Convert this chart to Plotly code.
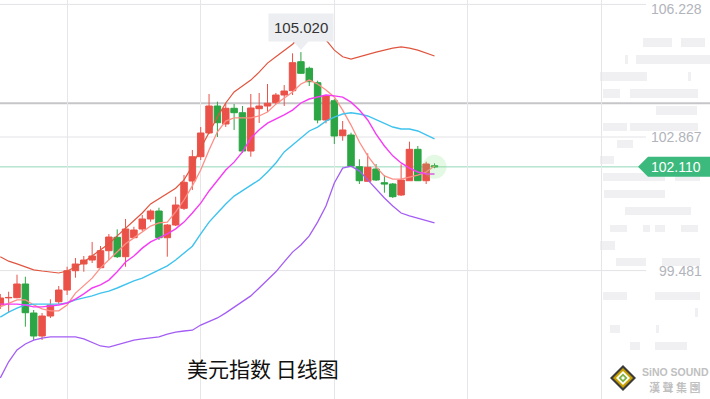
import plotly.graph_objects as go

# ---------------- data ----------------
idx = list(range(53))
opens = [98.609, 98.790, 98.794, 99.141, 98.406, 97.823, 98.330, 98.692, 98.988, 99.478,
         99.648, 99.749, 99.554, 99.985, 100.325, 99.833, 100.315, 100.535, 100.789, 100.991,
         100.315, 100.636, 101.060, 101.752, 102.368, 102.969, 103.653, 103.197, 103.595, 103.483,
         102.512, 103.585, 103.653, 103.737, 103.932, 104.041, 104.776, 104.609, 104.244, 103.298,
         103.787, 102.900, 102.918, 102.114, 101.744, 102.056, 101.709, 101.676, 101.397, 101.759,
         102.555, 101.759, 102.140]
highs = [98.887, 98.946, 99.377, 99.326, 98.482, 98.406, 98.753, 99.090, 99.579, 99.800,
         99.851, 100.205, 100.104, 100.408, 100.527, 100.789, 100.593, 100.890, 101.034, 101.075,
         100.662, 101.354, 101.904, 102.538, 103.121, 103.957, 103.762, 103.721, 103.704, 103.653,
         103.957, 103.983, 104.211, 103.983, 104.185, 104.989, 105.020, 104.649, 104.294, 103.932,
         103.830, 103.273, 102.976, 102.302, 102.454, 102.183, 101.904, 101.701, 102.175, 102.748,
         102.639, 102.241, 102.200]
lows = [98.507, 98.406, 98.780, 98.059, 97.721, 97.721, 98.279, 98.634, 98.862, 99.301,
        99.453, 99.673, 99.547, 99.749, 99.800, 99.579, 100.307, 100.484, 100.720, 100.256,
        99.833, 100.611, 101.017, 101.524, 102.284, 102.943, 102.867, 103.121, 103.045, 102.462,
        102.368, 103.222, 103.501, 103.704, 103.653, 103.932, 104.464, 104.160, 103.214, 103.214,
        102.690, 102.773, 102.106, 101.676, 101.727, 101.752, 101.455, 101.321, 101.372, 101.752,
        101.752, 101.676, 102.074]
closes = [98.786, 98.800, 99.141, 98.413, 97.823, 98.330, 98.609, 98.988, 99.478, 99.648,
          99.749, 99.851, 99.985, 100.332, 99.833, 100.535, 100.510, 100.789, 100.991, 100.315,
          100.636, 101.143, 101.719, 102.368, 102.969, 103.653, 103.230, 103.595, 103.483, 102.512,
          103.602, 103.653, 103.722, 103.932, 104.033, 104.751, 104.482, 104.269, 103.298, 103.907,
          102.893, 103.045, 102.132, 101.759, 102.099, 101.777, 101.676, 101.354, 101.777, 102.555,
          101.759, 102.183, 102.110]

boll_upper = [99.83, 99.72, 99.65, 99.57, 99.50, 99.47, 99.45, 99.42, 99.47, 99.57,
              99.70, 99.85, 100.00, 100.16, 100.36, 100.56, 100.74, 100.94, 101.17, 101.30,
              101.42, 101.57, 101.78, 102.13, 102.59, 103.00, 103.37, 103.73, 104.01, 104.16,
              104.31, 104.51, 104.74, 104.90, 105.05, 105.22, 105.43, 105.55, 105.50, 105.33,
              105.07, 104.90, 104.84, 104.90, 104.97, 105.02, 105.07, 105.12, 105.15, 105.12,
              105.07, 105.00, 104.92]
ma_short = [98.56, 98.66, 98.74, 98.74, 98.61, 98.51, 98.46, 98.46, 98.61, 98.91,
            99.09, 99.29, 99.55, 99.75, 99.95, 100.16, 100.31, 100.46, 100.61, 100.69,
            100.71, 100.97, 101.27, 101.63, 102.03, 102.54, 103.00, 103.27, 103.35, 103.35,
            103.35, 103.40, 103.50, 103.70, 103.86, 104.01, 104.21, 104.31, 104.21, 104.06,
            103.88, 103.55, 103.17, 102.74, 102.39, 102.11, 101.88, 101.80, 101.80, 101.85,
            101.90, 101.98, 102.13]
ma_mid = [98.63, 98.63, 98.63, 98.61, 98.56, 98.56, 98.58, 98.61, 98.66, 98.76,
          98.89, 99.04, 99.12, 99.24, 99.45, 99.70, 99.85, 100.05, 100.21, 100.31,
          100.41, 100.54, 100.71, 100.94, 101.19, 101.50, 101.78, 102.03, 102.23, 102.49,
          102.84, 103.05, 103.22, 103.32, 103.43, 103.55, 103.73, 103.83, 103.88, 103.93,
          103.91, 103.88, 103.75, 103.55, 103.30, 102.94, 102.64, 102.39, 102.21, 102.08,
          101.98, 101.93, 101.93]
boll_middle = [98.30, 98.43, 98.53, 98.61, 98.63, 98.63, 98.63, 98.63, 98.66, 98.74,
               98.79, 98.84, 98.91, 98.96, 99.04, 99.14, 99.22, 99.29, 99.39, 99.50,
               99.60, 99.75, 99.93, 100.10, 100.41, 100.71, 100.94, 101.17, 101.37, 101.50,
               101.63, 101.78, 101.98, 102.21, 102.49, 102.66, 102.84, 103.02, 103.12, 103.27,
               103.37, 103.45, 103.48, 103.45, 103.40, 103.30, 103.22, 103.12, 103.07, 103.07,
               103.02, 102.92, 102.82]
boll_lower = [96.76, 97.17, 97.47, 97.62, 97.72, 97.77, 97.80, 97.80, 97.80, 97.80,
              97.75, 97.65, 97.57, 97.54, 97.60, 97.67, 97.72, 97.75, 97.77, 97.80,
              97.87, 97.92, 97.95, 97.97, 98.10, 98.20, 98.28, 98.41, 98.56, 98.69,
              98.84, 99.04, 99.24, 99.45, 99.70, 99.95, 100.13, 100.36, 100.71, 101.12,
              101.70, 102.08, 102.13, 102.01, 101.78, 101.55, 101.32, 101.12, 100.94, 100.87,
              100.81, 100.74, 100.69]

axis_ticks = [106.228, 102.867, 99.481]
axis_ticktext = ["106.228", "102.867", "99.481"]
last_price = 102.110
level_line = 103.72
peak_label = "105.020"
title_text = "美元指数 日线图"

# ---------------- figure ----------------
W, H = 710, 399
RED, GREEN = "#ea5249", "#2ca544"

fig = go.Figure()

# faint background blocks (decoration)
blocks = [(643, 38, 672, 47), (681, 38, 705, 47), (625, 55, 628, 64), (636, 55, 710, 64),
          (600, 72, 647, 81), (688, 72, 691, 81), (603, 89, 620, 98), (630, 89, 698, 98),
          (656, 106, 697, 115), (603, 123, 627, 131), (630, 123, 698, 131), (617, 140, 633, 148),
          (600, 156, 614, 164), (603, 173, 665, 181), (675, 173, 700, 181), (604, 190, 665, 198),
          (625, 207, 691, 215), (610, 225, 627, 232), (643, 225, 650, 232), (655, 225, 665, 232),
          (681, 225, 698, 232), (600, 241, 615, 250), (616, 258, 646, 266), (662, 258, 700, 266),
          (603, 292, 627, 300), (655, 292, 700, 300), (695, 308, 698, 317), (610, 325, 620, 333),
          (656, 325, 659, 333), (630, 342, 640, 350), (655, 342, 687, 350)]
shapes = []
for (x0, y0, x1, y1) in blocks:
    shapes.append(dict(type="rect", xref="paper", yref="paper", layer="below",
                       x0=x0 / W, x1=x1 / W, y0=1 - y1 / H, y1=1 - y0 / H,
                       fillcolor="#f0f0f2", line=dict(width=0)))

# horizontal grid lines (stop before labels)
for v in axis_ticks:
    shapes.append(dict(type="line", xref="paper", yref="y", layer="below",
                       x0=0, x1=646 / W, y0=v, y1=v, line=dict(color="#e3e3e6", width=1)))
# level line
shapes.append(dict(type="line", xref="paper", yref="y", layer="below",
                   x0=0, x1=1, y0=level_line, y1=level_line, line=dict(color="#c6c6c8", width=2)))
# last price line
shapes.append(dict(type="line", xref="paper", yref="y", layer="below",
                   x0=0, x1=0.9, y0=last_price, y1=last_price, line=dict(color="#93d7bb", width=1)))
# price tag
shapes.append(dict(type="path", xref="paper", yref="y", xsizemode="pixel", ysizemode="pixel",
                   xanchor=1, yanchor=last_price,
                   path="M -72,0 L -62,10 L 0,10 L 0,-10 L -62,-10 Z",
                   fillcolor="#3cb97d", line=dict(width=0)))

# peak label pointer
pk = max(range(len(highs)), key=lambda i: highs[i])
shapes.append(dict(type="path", xref="x", yref="y", xsizemode="pixel", ysizemode="pixel",
                   xanchor=idx[pk], yanchor=highs[pk],
                   path="M -8,11 L 8,11 L 0,2 Z", fillcolor="#eceef1", line=dict(width=0)))

# logo diamond
lx, ly = 623 / W, 1 - 378 / H
for r, col in [(13, "#3b3b3b"), (10, "#c9a200"), (7, "#ffffff"), (4.5, "#7cb342"), (2, "#ffffff")]:
    shapes.append(dict(type="path", xref="paper", yref="paper", xsizemode="pixel", ysizemode="pixel",
                       xanchor=lx, yanchor=ly,
                       path=f"M 0,{r} L {r},0 L 0,{-r} L {-r},0 Z", fillcolor=col, line=dict(width=0)))

fig.add_trace(go.Candlestick(
    x=idx, open=opens, high=highs, low=lows, close=closes,
    increasing=dict(line=dict(color=RED, width=1), fillcolor=RED),
    decreasing=dict(line=dict(color=GREEN, width=1), fillcolor=GREEN),
    whiskerwidth=0, hoverinfo="skip", showlegend=False))

line_specs = [(boll_upper, "#e0553f", 1.2), (ma_short, "#ff8f86", 1.3), (boll_middle, "#3fc3ee", 1.4),
              (ma_mid, "#f53cf5", 1.4), (boll_lower, "#a45df4", 1.3)]
for vals, col, w in line_specs:
    fig.add_trace(go.Scatter(x=idx, y=vals, mode="lines", line=dict(color=col, width=w),
                             hoverinfo="skip", showlegend=False))

# glow on the last candle
fig.add_trace(go.Scatter(x=[idx[-1]], y=[last_price], mode="markers",
                         marker=dict(size=24, color="rgba(120,225,120,0.2)"),
                         hoverinfo="skip", showlegend=False))

annotations = []
for v, t in zip(axis_ticks, axis_ticktext):
    top = (v == max(axis_ticks))
    annotations.append(dict(x=704 / W, y=v, xref="paper", yref="y", xanchor="right",
                            yanchor=("top" if top else "middle"), yshift=(5 if top else 0),
                            text=t, showarrow=False,
                            font=dict(family="Liberation Sans, Arial", size=14, color="#b2b4bb")))
annotations.append(dict(x=676 / W, y=last_price, xref="paper", yref="y", xanchor="center", yanchor="middle",
                        text=f"{last_price:.3f}", showarrow=False,
                        font=dict(family="Liberation Sans, Arial", size=14, color="#ffffff")))
annotations.append(dict(x=idx[pk], y=highs[pk], xref="x", yref="y", xanchor="center", yanchor="bottom",
                        yshift=10, text=peak_label, showarrow=False, bgcolor="#eceef1", borderpad=5,
                        font=dict(family="Liberation Sans, Arial", size=15, color="#333333")))
annotations.append(dict(x=263 / W, y=1 - 368 / H, xref="paper", yref="paper", xanchor="center",
                        yanchor="middle", text=title_text, showarrow=False,
                        font=dict(family="Noto Sans CJK SC", size=21, color="#111111")))
annotations.append(dict(x=675 / W, y=1 - 372 / H, xref="paper", yref="paper", xanchor="center",
                        yanchor="middle", text="<b>SiNO SOUND</b>", showarrow=False,
                        font=dict(family="Liberation Sans, Arial", size=10.5, color="#c0c0c0")))
annotations.append(dict(x=675 / W, y=1 - 387 / H, xref="paper", yref="paper", xanchor="center",
                        yanchor="middle", text="<b>漢 聲 集 團</b>", showarrow=False,
                        font=dict(family="Noto Sans CJK TC", size=11, color="#c0c0c0")))

fig.update_layout(
    width=W, height=H, margin=dict(l=0, r=0, t=0, b=0),
    paper_bgcolor="white", plot_bgcolor="white",
    boxgap=0.22, boxgroupgap=0,
    xaxis=dict(range=[-0.036, 84.99], showticklabels=False, tickvals=[8, 24, 40, 56, 72],
               showgrid=True, gridcolor="#e6e6e9", gridwidth=1, zeroline=False,
               rangeslider=dict(visible=False), fixedrange=True),
    yaxis=dict(range=[96.226, 106.340], showticklabels=False, showgrid=False, zeroline=False,
               fixedrange=True),
    shapes=shapes, annotations=annotations, showlegend=False,
)

fig.write_html("out.html", config={"displayModeBar": False},
               post_script="document.body.style.margin='0';document.body.style.overflow='hidden';")
